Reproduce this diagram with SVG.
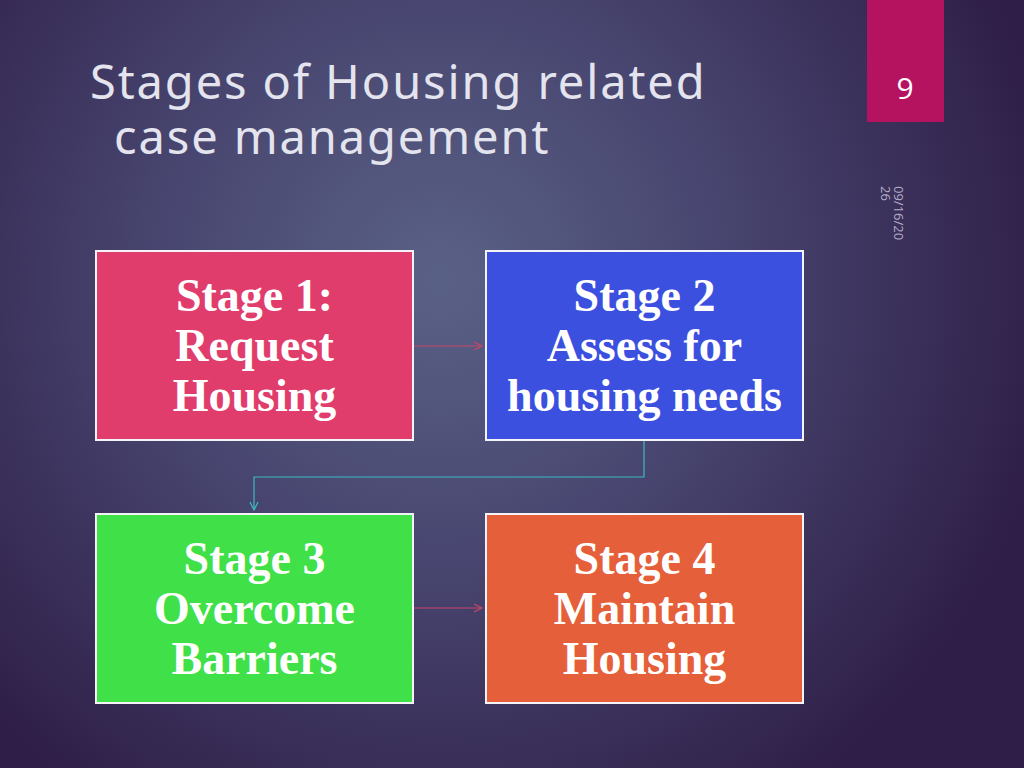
<svg xmlns="http://www.w3.org/2000/svg" width="1024" height="768" viewBox="0 0 1024 768">
<defs>
<radialGradient id="bg" cx="440" cy="280" r="620" gradientUnits="userSpaceOnUse">
<stop offset="0" stop-color="#5a6186"/>
<stop offset="0.45" stop-color="#484670"/>
<stop offset="1" stop-color="#2f1f48"/>
</radialGradient>
<marker id="arR" markerWidth="12" markerHeight="12" refX="10" refY="6" orient="auto" markerUnits="userSpaceOnUse">
<path d="M2,2 L10,6 L2,10" fill="none" stroke="#c8466a" stroke-width="1.2"/>
</marker>
<marker id="arT" markerWidth="12" markerHeight="12" refX="10" refY="6" orient="auto" markerUnits="userSpaceOnUse">
<path d="M2,2 L10,6 L2,10" fill="none" stroke="#3cbac4" stroke-width="1.2"/>
</marker>
</defs>
<style>
.box{stroke:#f4f4f8;stroke-width:2}
.lbl{font-family:"Liberation Serif","Times New Roman",serif;font-weight:bold;font-size:46px;fill:#ffffff;text-anchor:middle}
.title{font-family:"Noto Sans","Open Sans",sans-serif;font-size:47px;letter-spacing:1.9px;fill:#e4e4ee}
</style>
<rect width="1024" height="768" fill="url(#bg)"/>
<text class="title" x="90" y="99">Stages of Housing related</text>
<text class="title" x="114" y="154">case management</text>
<g id="pagenum">
<rect x="867" y="0" width="77" height="122" fill="#b5135f"/>
<text x="905" y="99" font-family="Open Sans,Noto Sans,sans-serif" font-size="30" fill="#ffffff" text-anchor="middle">9</text>
</g>
<g id="date" font-family="Open Sans,Noto Sans,sans-serif" font-size="13" fill="#b4aec8">
<text transform="translate(894,186) rotate(90)">09/16/20</text>
<text transform="translate(881,186) rotate(90)">26</text>
</g>
<g id="connectors" fill="none" stroke-width="1.2">
<line x1="414" y1="346" x2="482" y2="346" stroke="#c8466a" marker-end="url(#arR)"/>
<polyline points="644,441 644,477 254,477 254,510" stroke="#3cbac4" marker-end="url(#arT)"/>
<line x1="414" y1="608" x2="482" y2="608" stroke="#c8466a" marker-end="url(#arR)"/>
</g>
<g id="stage1">
<rect class="box" x="96" y="251" width="317" height="189" fill="#e03d6c"/>
<text class="lbl" x="254.5" y="311">Stage 1:</text>
<text class="lbl" x="254.5" y="361">Request</text>
<text class="lbl" x="254.5" y="411">Housing</text>
</g>
<g id="stage2">
<rect class="box" x="486" y="251" width="317" height="189" fill="#3c50e0"/>
<text class="lbl" x="644.5" y="311">Stage 2</text>
<text class="lbl" x="644.5" y="361">Assess for</text>
<text class="lbl" x="644.5" y="411">housing needs</text>
</g>
<g id="stage3">
<rect class="box" x="96" y="514" width="317" height="189" fill="#40e048"/>
<text class="lbl" x="254.5" y="574">Stage 3</text>
<text class="lbl" x="254.5" y="624">Overcome</text>
<text class="lbl" x="254.5" y="674">Barriers</text>
</g>
<g id="stage4">
<rect class="box" x="486" y="514" width="317" height="189" fill="#e5603a"/>
<text class="lbl" x="644.5" y="574">Stage 4</text>
<text class="lbl" x="644.5" y="624">Maintain</text>
<text class="lbl" x="644.5" y="674">Housing</text>
</g>
</svg>
